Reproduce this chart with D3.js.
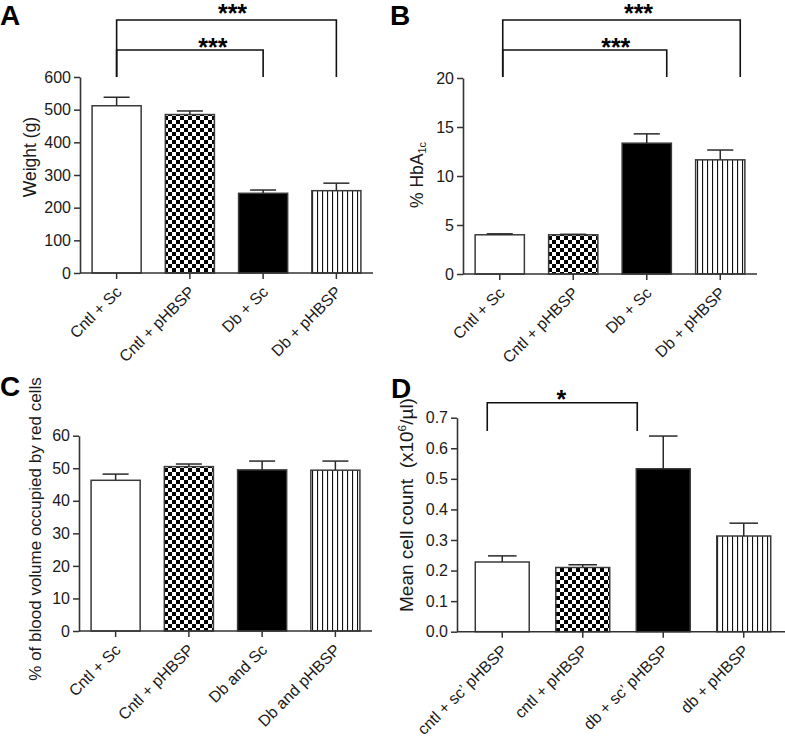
<!DOCTYPE html>
<html>
<head>
<meta charset="utf-8">
<script src="https://cdn.jsdelivr.net/npm/d3@7/dist/d3.min.js"></script>
<style>
  html, body { margin: 0; padding: 0; background: #fff; }
  svg { display: block; font-family: "Liberation Sans", Arial, Helvetica, sans-serif; }
  text { fill: #1a1a1a; }
</style>
</head>
<body>
<svg id="chart" width="785" height="738"></svg>
<script>
// ---------------- DATA ----------------
const categoriesAB = ["Cntl + Sc", "Cntl + pHBSP", "Db + Sc", "Db + pHBSP"];
const categoriesC  = ["Cntl + Sc", "Cntl + pHBSP", "Db and Sc", "Db and pHBSP"];
const categoriesD  = ["cntl + sc\u2019 pHBSP", "cntl + pHBSP", "db + sc\u2019 pHBSP", "db + pHBSP"];

const weightMean = [512, 485, 244, 252];
const weightSem  = [26, 11, 10, 23];
const weightTicks = [0, 100, 200, 300, 400, 500, 600];

const hba1cMean = [4.0, 4.0, 13.35, 11.65];
const hba1cSem  = [0.1, 0.05, 0.95, 1.0];
const hba1cTicks = [0, 5, 10, 15, 20];

const hctMean = [46.3, 50.5, 49.5, 49.4];
const hctSem  = [1.9, 0.8, 2.7, 2.8];
const hctTicks = [0, 10, 20, 30, 40, 50, 60];

const cellMean = [0.228, 0.210, 0.533, 0.313];
const cellSem  = [0.020, 0.009, 0.107, 0.042];
const cellTicks = [0, 0.1, 0.2, 0.3, 0.4, 0.5, 0.6, 0.7];

const groupFills = ["white", "check", "black", "stripes"];

const bracketsAB = [ { from: 0, to: 3, label: "***" }, { from: 0, to: 2, label: "***" } ];
const bracketsD  = [ { from: 0, to: 2, label: "*" } ];

// ---------------- LAYOUT ----------------
const panels = [
  { letter: "A", lx: 0, ly: 24.5, cats: categoriesAB, mean: weightMean, sem: weightSem, ticks: weightTicks, fmt: d3.format("d"),
    x0: 80, x1: 373, bx0: 80, bx1: 373, yTop: 77, yBot: 273, yMax: 600,
    ylabel: [{t: "Weight (g)"}], ylx: 36, yly: 157, ylfs: 17.5,
    brackets: bracketsAB,
    bl: [ {dx1: 0, dx2: 0, y: 20, leg: 77, tdx: 6, tdy: 2}, {dx1: 0, dx2: 0, y: 50, leg: 77, tdx: 23, tdy: 5.5} ] },
  { letter: "B", lx: 390, ly: 24.5, cats: categoriesAB, mean: hba1cMean, sem: hba1cSem, ticks: hba1cTicks, fmt: d3.format("d"),
    x0: 463, x1: 757, bx0: 463, bx1: 757, yTop: 78, yBot: 274, yMax: 20,
    ylabel: [{t: "% HbA"}, {t: "1c", sub: true}], ylx: 423, yly: 175, ylfs: 17.5,
    brackets: bracketsAB,
    bl: [ {dx1: 3, dx2: 20, y: 20, leg: 77, tdx: 17, tdy: 2}, {dx1: 3, dx2: 20, y: 50, leg: 77, tdx: 31, tdy: 5.5} ] },
  { letter: "C", lx: 0, ly: 396, cats: categoriesC, mean: hctMean, sem: hctSem, ticks: hctTicks, fmt: d3.format("d"),
    x0: 79, x1: 372, bx0: 79, bx1: 372, yTop: 435.7, yBot: 631, yMax: 60,
    ylabel: [{t: "% of blood volume occupied by red cells"}], ylx: 41, yly: 529, ylfs: 17,
    brackets: [], bl: [] },
  { letter: "D", lx: 391, ly: 398, cats: categoriesD, mean: cellMean, sem: cellSem, ticks: cellTicks, fmt: d3.format(".1f"),
    x0: 457, x1: 785, bx0: 462, bx1: 784, yTop: 417.7, yBot: 631.7, yMax: 0.7,
    ylabel: [{t: "Mean cell count  (x10"}, {t: "6", sup: true}, {t: "/\u00b5l)"}], ylx: 413, yly: 505, ylfs: 19,
    brackets: bracketsD,
    bl: [ {dx1: -15, dx2: -26, y: 402.7, leg: 431, tdx: -1, tdy: 5} ] }
];

const svg = d3.select("#chart");
const defs = svg.append("defs");

// checkerboard
const chk = defs.append("pattern").attr("id", "check").attr("patternUnits", "userSpaceOnUse")
  .attr("width", 8).attr("height", 8);
chk.append("rect").attr("width", 8).attr("height", 8).attr("fill", "#fff");
chk.append("rect").attr("x", 0).attr("y", 0).attr("width", 4).attr("height", 4).attr("fill", "#000");
chk.append("rect").attr("x", 4).attr("y", 4).attr("width", 4).attr("height", 4).attr("fill", "#000");

// vertical stripes
const stp = defs.append("pattern").attr("id", "stripes").attr("patternUnits", "userSpaceOnUse")
  .attr("width", 5).attr("height", 10);
stp.append("rect").attr("width", 5).attr("height", 10).attr("fill", "#fff");
stp.append("rect").attr("x", 2).attr("y", 0).attr("width", 1.1).attr("height", 10).attr("fill", "#111");

function fillFor(k) {
  if (k === "check") return "url(#check)";
  if (k === "stripes") return "url(#stripes)";
  return k === "black" ? "#000" : "#fff";
}

const axisColor = "#333";

panels.forEach(p => {
  const g = svg.append("g");
  const x = d3.scaleBand().domain(p.cats).range([p.bx0, p.bx1]).paddingInner(0.33).paddingOuter(0.165);
  const y = d3.scaleLinear().domain([0, p.yMax]).range([p.yBot, p.yTop]);
  const bw = x.bandwidth();
  const cx = i => x(p.cats[i]) + bw / 2;

  // panel letter
  svg.append("text").attr("x", p.lx).attr("y", p.ly).attr("font-size", 28).attr("font-weight", "bold")
    .style("fill", "#000").text(p.letter);

  // bars
  g.selectAll("rect.bar").data(p.mean).enter().append("rect")
    .attr("class", "bar")
    .attr("x", (d, i) => x(p.cats[i]))
    .attr("y", d => y(d))
    .attr("width", bw)
    .attr("height", d => y(0) - y(d))
    .attr("fill", (d, i) => fillFor(groupFills[i]))
    .attr("stroke", "#3a3a3a").attr("stroke-width", 1.5);

  // error bars (upper only)
  const capW = bw * 0.53;
  p.mean.forEach((m, i) => {
    const top = y(m + p.sem[i]);
    g.append("line").attr("x1", cx(i)).attr("x2", cx(i)).attr("y1", y(m)).attr("y2", top)
      .attr("stroke", "#2a2a2a").attr("stroke-width", 1.5);
    g.append("line").attr("x1", cx(i) - capW / 2).attr("x2", cx(i) + capW / 2).attr("y1", top).attr("y2", top)
      .attr("stroke", "#2a2a2a").attr("stroke-width", 1.5);
  });

  // y axis
  const ya = g.append("g").attr("transform", `translate(${p.x0},0)`)
    .call(d3.axisLeft(y).tickValues(p.ticks).tickFormat(p.fmt).tickSize(6).tickSizeOuter(0).tickPadding(3));
  ya.select(".domain").attr("stroke", axisColor).attr("stroke-width", 1.6);
  ya.selectAll(".tick line").attr("stroke", axisColor).attr("stroke-width", 1.5);
  ya.selectAll(".tick text").attr("font-size", 16).attr("font-family", null).style("fill", "#1a1a1a");

  // x axis
  const xa = g.append("g").attr("transform", `translate(0,${p.yBot})`)
    .call(d3.axisBottom(x).tickSize(6).tickSizeOuter(0));
  xa.select(".domain").remove();
  xa.selectAll(".tick line").attr("stroke", axisColor).attr("stroke-width", 1.5);
  xa.selectAll(".tick text")
    .attr("font-size", 16).attr("font-family", null).style("fill", "#1a1a1a")
    .attr("x", 0).attr("y", 0).attr("dy", 0)
    .attr("text-anchor", "end")
    .attr("transform", "translate(6,20) rotate(-45)");
  g.append("line").attr("x1", p.x0).attr("x2", p.x1).attr("y1", p.yBot).attr("y2", p.yBot)
    .attr("stroke", axisColor).attr("stroke-width", 1.6);

  // y label
  const yl = g.append("text")
    .attr("transform", `translate(${p.ylx},${p.yly}) rotate(-90)`)
    .attr("text-anchor", "middle").attr("font-size", p.ylfs)
    .style("white-space", "pre");
  p.ylabel.forEach(s => {
    const ts = yl.append("tspan").text(s.t);
    if (s.sub) ts.attr("font-size", p.ylfs * 0.62).attr("dy", 3);
    if (s.sup) ts.attr("font-size", p.ylfs * 0.62).attr("dy", -7);
    else if (!s.sub && p.ylabel.some(q => q.sup) && s !== p.ylabel[0]) ts.attr("dy", 7);
  });

  // significance brackets
  p.brackets.forEach((b, k) => {
    const L = p.bl[k];
    const xa1 = cx(b.from) + L.dx1, xa2 = cx(b.to) + L.dx2;
    g.append("path")
      .attr("d", `M${xa1},${L.leg}V${L.y}H${xa2}V${L.leg}`)
      .attr("fill", "none").attr("stroke", "#111").attr("stroke-width", 1.6);
    g.append("text").attr("x", (xa1 + xa2) / 2 + L.tdx).attr("y", L.y + L.tdy)
      .attr("text-anchor", "middle").attr("font-size", 25).attr("font-weight", "bold")
      .style("fill", "#000").text(b.label);
  });
});
</script>
</body>
</html>
